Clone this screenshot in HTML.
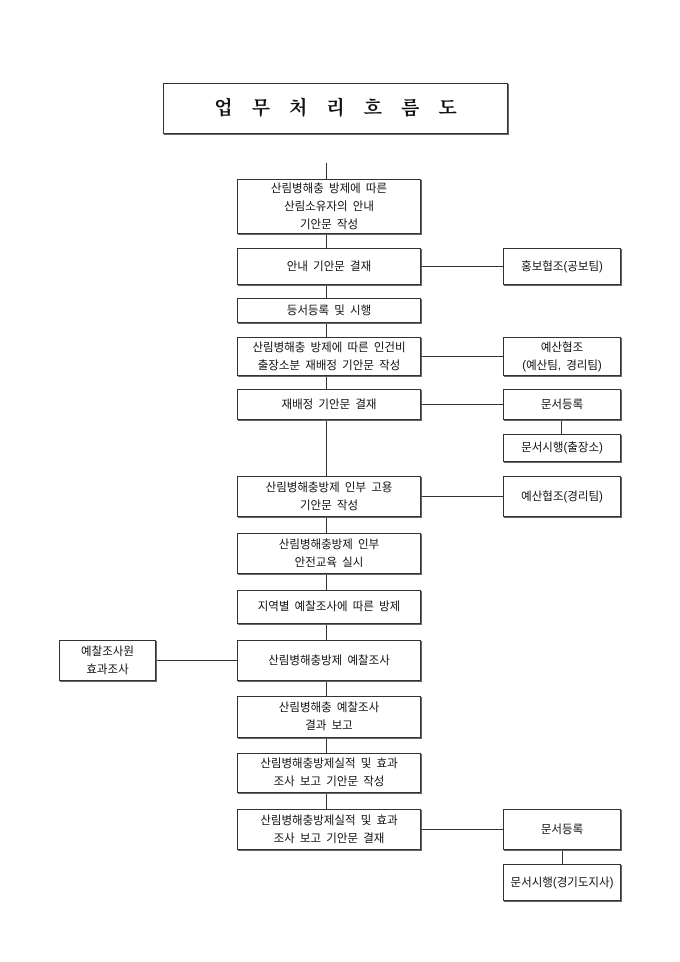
<!DOCTYPE html>
<html><head><meta charset="utf-8"><style>
body{margin:0;width:680px;height:962px;background:#fff;position:relative;font-family:"Liberation Sans","Noto Sans CJK KR","NanumGothic",sans-serif;color:#111}
.b{position:absolute;border:1px solid #333;box-shadow:1px 1px 0 #666;display:flex;align-items:center;justify-content:center;text-align:center;font-size:11.5px;line-height:18px;box-sizing:border-box;background:#fff;word-spacing:2px}
.v{position:absolute;width:1px;background:#333}
.h{position:absolute;height:1px;background:#333}
</style></head><body>
<div class="b" style="left:163px;top:83px;width:345px;height:51px;font-family:'Liberation Serif','Noto Serif CJK SC',serif;font-weight:bold;font-size:19px;letter-spacing:19px;padding-left:19px">업무처리흐름도</div>

<div class="v" style="left:326px;top:163px;height:646px"></div>
<div class="h" style="left:420px;top:266px;width:83px"></div>
<div class="h" style="left:420px;top:356px;width:83px"></div>
<div class="h" style="left:420px;top:404px;width:83px"></div>
<div class="v" style="left:561px;top:419px;height:15px"></div>
<div class="h" style="left:420px;top:496px;width:83px"></div>
<div class="h" style="left:156px;top:660px;width:81px"></div>
<div class="h" style="left:420px;top:829px;width:83px"></div>
<div class="v" style="left:562px;top:849px;height:15px"></div>

<div class="b" style="left:237px;top:179px;width:184px;height:55px">산림병해충 방제에 따른<br>산림소유자의 안내<br>기안문 작성</div>
<div class="b" style="left:237px;top:248px;width:184px;height:37px">안내 기안문 결재</div>
<div class="b" style="left:503px;top:248px;width:118px;height:37px">홍보협조(공보팀)</div>
<div class="b" style="left:237px;top:298px;width:184px;height:25px">등서등록 및 시행</div>
<div class="b" style="left:237px;top:337px;width:184px;height:39px">산림병해충 방제에 따른 인건비<br>출장소분 재배정 기안문 작성</div>
<div class="b" style="left:503px;top:337px;width:118px;height:39px">예산협조<br>(예산팀, 경리팀)</div>
<div class="b" style="left:237px;top:389px;width:184px;height:31px">재배정 기안문 결재</div>
<div class="b" style="left:503px;top:389px;width:118px;height:31px">문서등록</div>
<div class="b" style="left:503px;top:434px;width:118px;height:28px">문서시행(출장소)</div>
<div class="b" style="left:237px;top:476px;width:184px;height:41px">산림병해충방제 인부 고용<br>기안문 작성</div>
<div class="b" style="left:503px;top:476px;width:118px;height:41px">예산협조(경리팀)</div>
<div class="b" style="left:237px;top:533px;width:184px;height:41px">산림병해충방제 인부<br>안전교육 실시</div>
<div class="b" style="left:237px;top:590px;width:184px;height:34px">지역별 예찰조사에 따른 방제</div>
<div class="b" style="left:59px;top:640px;width:97px;height:41px">예찰조사원<br>효과조사</div>
<div class="b" style="left:237px;top:640px;width:184px;height:41px">산림병해충방제 예찰조사</div>
<div class="b" style="left:237px;top:696px;width:184px;height:42px">산림병해충 예찰조사<br>결과 보고</div>
<div class="b" style="left:237px;top:753px;width:184px;height:40px">산림병해충방제실적 및 효과<br>조사 보고 기안문 작성</div>
<div class="b" style="left:237px;top:809px;width:184px;height:41px">산림병해충방제실적 및 효과<br>조사 보고 기안문 결재</div>
<div class="b" style="left:503px;top:809px;width:118px;height:41px">문서등록</div>
<div class="b" style="left:503px;top:864px;width:118px;height:37px">문서시행(경기도지사)</div>
</body></html>
